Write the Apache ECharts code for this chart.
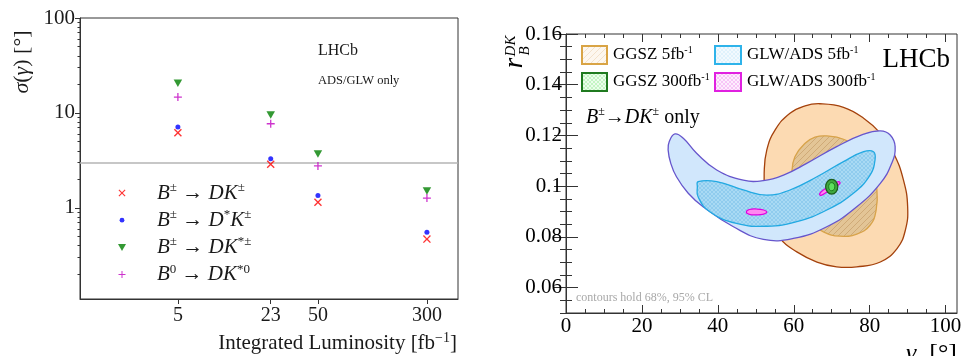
<!DOCTYPE html>
<html><head><meta charset="utf-8">
<script src="https://cdn.jsdelivr.net/npm/echarts@6/dist/echarts.min.js"></script>
<style>html,body{margin:0;padding:0;background:#fff}#c{width:965px;height:356px}</style>
</head><body><div id="c"></div>
<script>
// ---------- Left panel data ----------
const luminosities = [5, 23, 50, 300];
const sigmaBtoDK = [6.2, 2.88, 1.15, 0.47];
const sigmaBtoDstK = [7.1, 3.3, 1.35, 0.555];
const sigmaBtoDKst = [20.5, 9.5, 3.7, 1.51];
const sigmaB0toDKst0 = [14.7, 7.7, 2.77, 1.27];
const referenceSigma = 3;
const leftXTickValues = [5, 23, 50, 300];
const leftYTickValues = [1, 10, 100];
const leftYMinorValues = [0.2,0.3,0.4,0.5,0.6,0.7,0.8,0.9,2,3,4,5,6,7,8,9,20,30,40,50,60,70,80,90];

// ---------- Right panel data ----------
const gammaMajorTicks = [0, 20, 40, 60, 80, 100];
const gammaMinorTicks = [5,10,15,25,30,35,45,50,55,65,70,75,85,90,95];
const rbMajorTicks = [0.06, 0.08, 0.1, 0.12, 0.14, 0.16];
const rbMinorTicks = [0.05,0.055,0.065,0.07,0.075,0.085,0.09,0.095,0.105,0.11,0.115,0.125,0.13,0.135,0.145,0.15,0.155];

const ggsz5fb95 = [[66.9,0.1325],[73.1,0.1311],[78.4,0.1268],[82.8,0.1209],[86.3,0.1130],[88.9,0.1024],[90.0,0.0919],[89.4,0.0827],[87.2,0.0754],[82.8,0.0701],[76.6,0.0682],[71.3,0.0682],[66.1,0.0701],[60.8,0.0741],[56.4,0.0794],[53.7,0.0879],[52.4,0.0972],[52.2,0.1051],[52.9,0.1143],[55.1,0.1222],[59.0,0.1288],[63.0,0.1317]];
const ggsz5fb68 = [[68.7,0.1198],[73.1,0.1185],[77.5,0.1143],[80.6,0.1077],[81.9,0.0985],[81.7,0.0906],[80.1,0.0846],[76.6,0.0811],[72.2,0.0803],[67.8,0.0820],[64.3,0.0860],[61.7,0.0919],[59.9,0.0985],[59.5,0.1051],[60.3,0.1116],[63.0,0.1169],[65.6,0.1193]];
const glwads5fb95 = [[28.7,0.1206],[27.2,0.1176],[26.9,0.1143],[27.6,0.1090],[29.1,0.1037],[32.2,0.0972],[36.1,0.0919],[44.1,0.0840],[52.0,0.0790],[59.9,0.0794],[68.7,0.0840],[76.6,0.0919],[82.8,0.1011],[85.8,0.1090],[86.7,0.1156],[85.4,0.1202],[82.8,0.1218],[78.4,0.1205],[71.3,0.1156],[63.4,0.1090],[57.3,0.1044],[52.0,0.1022],[46.7,0.1024],[39.7,0.1064],[34.4,0.1130],[30.9,0.1189]];
const glwads5fb68 = [[34.8,0.1018],[39.7,0.1018],[46.7,0.0985],[52.9,0.0965],[59.0,0.0985],[66.1,0.1037],[73.1,0.1097],[78.4,0.1136],[81.0,0.1136],[81.4,0.1103],[80.1,0.1044],[75.7,0.0972],[68.7,0.0906],[60.8,0.0860],[52.9,0.0842],[44.9,0.0853],[37.9,0.0899],[34.8,0.0958],[34.6,0.0998]];
const glwads300fbIslandA = [[47.5,0.0898],[48.3,0.0908],[50.2,0.0910],[52.1,0.0906],[52.9,0.0898],[52.1,0.0890],[50.2,0.0887],[48.3,0.0889]];
const glwads300fbIslandB = [[66.8,0.0969],[67.8,0.0985],[69.6,0.1001],[71.8,0.1018],[72.2,0.1012],[70.9,0.0995],[68.7,0.0976],[67.2,0.0964]];
const ggsz300fb95 = [[68.4,0.0998],[68.9,0.1019],[70.0,0.1027],[71.1,0.1019],[71.6,0.0998],[71.1,0.0977],[70.0,0.0969],[68.9,0.0977]];
const ggsz300fb68 = [[69.2,0.0998],[69.4,0.1009],[70.0,0.1014],[70.6,0.1009],[70.8,0.0998],[70.6,0.0987],[70.0,0.0982],[69.4,0.0987]];

// ---------- helpers ----------
function makePattern(bg, line, size, cross, lw) {
  const c = document.createElement('canvas');
  c.width = size; c.height = size;
  const g = c.getContext('2d');
  g.fillStyle = bg; g.fillRect(0, 0, size, size);
  g.strokeStyle = line; g.lineWidth = lw || 1;
  g.beginPath();
  g.moveTo(0, size); g.lineTo(size, 0);
  g.moveTo(-2, 2); g.lineTo(2, -2);
  g.moveTo(size - 2, size + 2); g.lineTo(size + 2, size - 2);
  if (cross) {
    g.moveTo(0, 0); g.lineTo(size, size);
    g.moveTo(-2, size - 2); g.lineTo(2, size + 2);
    g.moveTo(size - 2, -2); g.lineTo(size + 2, 2);
  }
  g.stroke();
  return { image: c, repeat: 'repeat' };
}
const patGgszInner = makePattern('#e3c596', '#caa36f', 6, false, 0.8);
const patGlwInner = makePattern('#a9daf4', '#7fc3ea', 4, true, 0.6);
const patLegGgsz5 = makePattern('#fdf7ef', '#f0dcc2', 6, false, 0.8);
const patLegGlw5 = makePattern('#f2f9fe', '#d2ecfa', 4, true, 0.6);
const patLegGgsz300 = makePattern('#ecfdec', '#a9f0a9', 4, true, 0.6);
const patLegGlw300 = makePattern('#fdeefd', '#f3a9f3', 4, true, 0.6);

function contour(points, fill, stroke, lw, z) {
  return {
    type: 'custom', xAxisIndex: 1, yAxisIndex: 2, data: points, z: z, silent: true,
    renderItem: function (params, api) {
      if (params.dataIndex !== 0) return null;
      const pts = points.map(function (p) { return api.coord(p); });
      return { type: 'polygon', shape: { points: pts, smooth: 0.45 },
               style: { fill: fill, stroke: stroke, lineWidth: lw } };
    }
  };
}
const pair = (xs, ys) => xs.map((x, i) => [x, ys[i]]);

const SERIF = '"Liberation Serif", "DejaVu Serif", serif';
const redX = 'path://M0,1.2L1.2,0L5,3.8L8.8,0L10,1.2L6.2,5L10,8.8L8.8,10L5,6.2L1.2,10L0,8.8L3.8,5Z';
const plusMark = 'path://M4.2,0H5.8V4.2H10V5.8H5.8V10H4.2V5.8H0V4.2H4.2Z';
const downTri = 'path://M0,0L10,0L5,9Z';
// legend icons: padded by extra moveTo points so they render at marker size
const legX = 'path://M0,0M10,10M1.5,2.3L2.3,1.5L5,4.2L7.7,1.5L8.5,2.3L5.8,5L8.5,7.7L7.7,8.5L5,5.8L2.3,8.5L1.5,7.7L4.2,5Z';
const legDot = 'path://M0,0M10,10M5,2.6A2.4,2.4 0 1,1 4.99,2.6Z';
const legTri = 'path://M0,0M10,10M1,1.5L9,1.5L5,8.5Z';
const legPlus = 'path://M0,0M10,10M4.5,1.5H5.5V4.5H8.5V5.5H5.5V8.5H4.5V5.5H1.5V4.5H4.5Z';

const legendRich = {
  sp: { width: 25 },
  i: { fontFamily: SERIF, fontStyle: 'italic', fontSize: 21, lineHeight: 24, color: '#1a1a1a' },
  n: { fontFamily: SERIF, fontSize: 21, lineHeight: 24, color: '#1a1a1a' },
  s: { fontFamily: SERIF, fontSize: 13, lineHeight: 14, verticalAlign: 'top', color: '#1a1a1a' }
};
const legendLabels = {
  'B± → DK±': '{sp| }{i|B}{s|±}{n| → }{i|DK}{s|±}',
  'B± → D*K±': '{sp| }{i|B}{s|±}{n| → }{i|D}{s|*}{i|K}{s|±}',
  'B± → DK*±': '{sp| }{i|B}{s|±}{n| → }{i|DK}{s|*±}',
  'B0 → DK*0': '{sp| }{i|B}{s|0}{n| → }{i|DK}{s|*0}'
};

const numFmt = v => String(parseFloat(Number(v).toFixed(4)));

const chart = echarts.init(document.getElementById('c'), null, { renderer: 'canvas' });
const option = {
  animation: false,
  backgroundColor: '#ffffff',
  grid: [
    { left: 80, top: 18, width: 378, height: 281, show: true, borderColor: '#333', borderWidth: 1, backgroundColor: 'transparent', containLabel: false, outerBoundsMode: 'none' },
    { left: 566, top: 34, width: 391, height: 279, show: true, borderColor: '#333', borderWidth: 1, backgroundColor: 'transparent', containLabel: false, outerBoundsMode: 'none' }
  ],
  xAxis: [
    { type: 'log', logBase: 10, gridIndex: 0, min: 1, max: 500, position: 'bottom',
      axisLine: { show: true, lineStyle: { color: '#333', width: 1 } },
      axisTick: { show: true, customValues: leftXTickValues, length: 5, inside: false, lineStyle: { color: '#333' } },
      axisLabel: { show: true, customValues: leftXTickValues, fontFamily: SERIF, fontSize: 20, color: '#1a1a1a', margin: 7, formatter: numFmt },
      splitLine: { show: false }, minorTick: { show: false } },
    { type: 'value', gridIndex: 1, min: 0, max: 103, position: 'bottom',
      axisLine: { show: true, lineStyle: { color: '#333' } },
      axisTick: { show: true, customValues: gammaMajorTicks, length: 8, inside: true, lineStyle: { color: '#333' } },
      axisLabel: { show: true, customValues: gammaMajorTicks, fontFamily: SERIF, fontSize: 21, color: '#000', margin: 3, formatter: numFmt },
      splitLine: { show: false } },
    { type: 'value', gridIndex: 1, min: 0, max: 103, position: 'bottom',
      axisLine: { show: false }, axisLabel: { show: false }, splitLine: { show: false },
      axisTick: { show: true, customValues: gammaMinorTicks, length: 4, inside: true, lineStyle: { color: '#333' } } },
    { type: 'value', gridIndex: 1, min: 0, max: 103, position: 'top',
      axisLine: { show: false }, axisLabel: { show: false }, splitLine: { show: false },
      axisTick: { show: true, customValues: gammaMajorTicks, length: 8, inside: true, lineStyle: { color: '#333' } } },
    { type: 'value', gridIndex: 1, min: 0, max: 103, position: 'top',
      axisLine: { show: false }, axisLabel: { show: false }, splitLine: { show: false },
      axisTick: { show: true, customValues: gammaMinorTicks, length: 4, inside: true, lineStyle: { color: '#333' } } }
  ],
  yAxis: [
    { type: 'log', logBase: 10, gridIndex: 0, min: 0.11, max: 100, position: 'left',
      axisLine: { show: true, lineStyle: { color: '#333' } },
      axisTick: { show: true, customValues: leftYTickValues, length: 5, inside: false, lineStyle: { color: '#333' } },
      axisLabel: { show: true, customValues: leftYTickValues, fontFamily: SERIF, fontSize: 21, color: '#1a1a1a', margin: 5, formatter: numFmt },
      splitLine: { show: false }, minorTick: { show: false } },
    { type: 'log', logBase: 10, gridIndex: 0, min: 0.11, max: 100, position: 'left',
      axisLine: { show: false }, axisLabel: { show: false }, splitLine: { show: false },
      axisTick: { show: true, customValues: leftYMinorValues, length: 2.5, inside: false, lineStyle: { color: '#333' } } },
    { type: 'value', gridIndex: 1, min: 0.05, max: 0.16, position: 'left',
      axisLine: { show: true, lineStyle: { color: '#333' } },
      axisTick: { show: true, customValues: rbMajorTicks, length: 12, inside: true, lineStyle: { color: '#333' } },
      axisLabel: { show: true, customValues: rbMajorTicks, fontFamily: SERIF, fontSize: 21, color: '#000', margin: 4, formatter: numFmt },
      splitLine: { show: false } },
    { type: 'value', gridIndex: 1, min: 0.05, max: 0.16, position: 'left',
      axisLine: { show: false }, axisLabel: { show: false }, splitLine: { show: false },
      axisTick: { show: true, customValues: rbMinorTicks, length: 6, inside: true, lineStyle: { color: '#333' } } },
    { type: 'value', gridIndex: 1, min: 0.05, max: 0.16, position: 'right',
      axisLine: { show: false }, axisLabel: { show: false }, splitLine: { show: false },
      axisTick: { show: true, customValues: rbMajorTicks, length: 12, inside: true, lineStyle: { color: '#333' } } },
    { type: 'value', gridIndex: 1, min: 0.05, max: 0.16, position: 'right',
      axisLine: { show: false }, axisLabel: { show: false }, splitLine: { show: false },
      axisTick: { show: true, customValues: rbMinorTicks, length: 6, inside: true, lineStyle: { color: '#333' } } }
  ],
  legend: {
    orient: 'vertical', left: 112, top: 176, itemGap: 4.7, itemWidth: 10, itemHeight: 10,
    data: [
      { name: 'B± → DK±', icon: legX },
      { name: 'B± → D*K±', icon: legDot },
      { name: 'B± → DK*±', icon: legTri },
      { name: 'B0 → DK*0', icon: legPlus }
    ],
    formatter: name => legendLabels[name],
    textStyle: { rich: legendRich }, selectedMode: false
  },
  series: [
    { name: 'B± → DK±', type: 'scatter', xAxisIndex: 0, yAxisIndex: 0, data: pair(luminosities, sigmaBtoDK),
      symbol: redX, symbolSize: 8, itemStyle: { color: '#ff0000' }, z: 4,
      markLine: { silent: true, symbol: 'none', label: { show: false }, z: 2,
        lineStyle: { color: '#b5b5b5', width: 1.5, type: 'solid' }, data: [{ yAxis: referenceSigma }] } },
    { name: 'B± → D*K±', type: 'scatter', xAxisIndex: 0, yAxisIndex: 0, data: pair(luminosities, sigmaBtoDstK),
      symbol: 'circle', symbolSize: 5, itemStyle: { color: '#0000ff' }, z: 4 },
    { name: 'B± → DK*±', type: 'scatter', xAxisIndex: 0, yAxisIndex: 0, data: pair(luminosities, sigmaBtoDKst),
      symbol: downTri, symbolSize: [8.5, 7.5], itemStyle: { color: '#008000' }, z: 4 },
    { name: 'B0 → DK*0', type: 'scatter', xAxisIndex: 0, yAxisIndex: 0, data: pair(luminosities, sigmaB0toDKst0),
      symbol: plusMark, symbolSize: 8, itemStyle: { color: '#c000c0' }, z: 4 },
    contour(ggsz5fb95, '#fcdab2', '#a4410c', 1.3, 2),
    contour(ggsz5fb68, patGgszInner, '#d8a34a', 1.3, 3),
    contour(glwads5fb95, '#d1e7fc', '#6655cc', 1.3, 4),
    contour(glwads5fb68, patGlwInner, '#22a9e2', 1.3, 5),
    contour(glwads300fbIslandA, '#ff88f0', '#e000e0', 1.2, 6),
    contour(glwads300fbIslandB, '#ff88f0', '#e000e0', 1.2, 6),
    contour(ggsz300fb95, '#3fa83f', '#1d5e1d', 1.2, 7),
    contour(ggsz300fb68, '#5fe05f', '#1f7a1f', 1, 8)
  ],
  graphic: [
    // Left panel texts
    { type: 'text', x: 22, y: 62, rotation: Math.PI / 2, silent: true,
      style: { text: '{i|σ}{n|(}{i|γ}{n|) [°]}', align: 'center', verticalAlign: 'middle',
        rich: { i: { fontFamily: SERIF, fontStyle: 'italic', fontSize: 22, fill: '#1a1a1a' }, n: { fontFamily: SERIF, fontSize: 22, fill: '#1a1a1a' } } } },
    { type: 'text', x: 457, y: 343, silent: true,
      style: { text: '{n|Integrated Luminosity [fb}{s|−1}{n|]}', align: 'right', verticalAlign: 'middle',
        rich: { n: { fontFamily: SERIF, fontSize: 21, lineHeight: 24, fill: '#1a1a1a' }, s: { fontFamily: SERIF, fontSize: 14, lineHeight: 16, verticalAlign: 'top', fill: '#1a1a1a' } } } },
    { type: 'text', x: 318, y: 51, silent: true, style: { text: 'LHCb', font: '16px ' + SERIF, fill: '#1a1a1a', verticalAlign: 'middle' } },
    { type: 'text', x: 318, y: 81, silent: true, style: { text: 'ADS/GLW only', font: '12.5px ' + SERIF, fill: '#1a1a1a', verticalAlign: 'middle' } },
    // Right panel texts
    { type: 'text', x: 950, y: 60, silent: true, z: 20, style: { text: 'LHCb', font: '27px ' + SERIF, fill: '#000', align: 'right', verticalAlign: 'middle' } },
    { type: 'text', x: 586, y: 118, silent: true, z: 20,
      style: { text: '{i|B}{s|±}{n|→}{i|DK}{s|±}{n| only}', verticalAlign: 'middle',
        rich: { i: { fontFamily: SERIF, fontStyle: 'italic', fontSize: 20, lineHeight: 24, fill: '#000' }, n: { fontFamily: SERIF, fontSize: 20, lineHeight: 24, fill: '#000' }, s: { fontFamily: SERIF, fontSize: 12, lineHeight: 14, verticalAlign: 'top', fill: '#000' } } } },
    { type: 'text', x: 576, y: 298, silent: true, z: 20, style: { text: 'contours hold 68%, 95% CL', font: '12px ' + SERIF, fill: '#a8a8a8', verticalAlign: 'middle' } },
    { type: 'group', x: 517, y: 52, rotation: Math.PI / 2, silent: true, children: [
      { type: 'text', x: -11, y: -2, style: { text: 'r', font: 'italic 27px ' + SERIF, fill: '#000', align: 'center', verticalAlign: 'middle' } },
      { type: 'text', x: 6, y: -6, style: { text: 'DK', font: 'italic 15px ' + SERIF, fill: '#000', align: 'center', verticalAlign: 'middle' } },
      { type: 'text', x: 1, y: 8, style: { text: 'B', font: 'italic 15px ' + SERIF, fill: '#000', align: 'center', verticalAlign: 'middle' } }
    ] },
    { type: 'text', x: 957, y: 341, silent: true,
      style: { text: '{i|γ}{n|  [°]}', align: 'right', verticalAlign: 'top',
        rich: { i: { fontFamily: SERIF, fontStyle: 'italic', fontSize: 26, fill: '#000' }, n: { fontFamily: SERIF, fontSize: 26, fill: '#000' } } } },
    // Right legend
    { type: 'rect', silent: true, z: 20, shape: { x: 582, y: 46, width: 25, height: 18 }, style: { fill: patLegGgsz5, stroke: '#d9a445', lineWidth: 2 } },
    { type: 'rect', silent: true, z: 20, shape: { x: 715, y: 46, width: 26, height: 18 }, style: { fill: patLegGlw5, stroke: '#2eb3ea', lineWidth: 2 } },
    { type: 'rect', silent: true, z: 20, shape: { x: 582, y: 73, width: 25, height: 18 }, style: { fill: patLegGgsz300, stroke: '#1f7a1f', lineWidth: 2 } },
    { type: 'rect', silent: true, z: 20, shape: { x: 715, y: 73, width: 26, height: 18 }, style: { fill: patLegGlw300, stroke: '#e020e0', lineWidth: 2 } },
    { type: 'text', x: 613, y: 55, silent: true, z: 20, style: { text: '{n|GGSZ 5fb}{s|-1}', verticalAlign: 'middle', rich: { n: { fontFamily: SERIF, fontSize: 17, lineHeight: 20, fill: '#000' }, s: { fontFamily: SERIF, fontSize: 10, lineHeight: 12, verticalAlign: 'top', fill: '#000' } } } },
    { type: 'text', x: 747, y: 55, silent: true, z: 20, style: { text: '{n|GLW/ADS 5fb}{s|-1}', verticalAlign: 'middle', rich: { n: { fontFamily: SERIF, fontSize: 17, lineHeight: 20, fill: '#000' }, s: { fontFamily: SERIF, fontSize: 10, lineHeight: 12, verticalAlign: 'top', fill: '#000' } } } },
    { type: 'text', x: 613, y: 82, silent: true, z: 20, style: { text: '{n|GGSZ 300fb}{s|-1}', verticalAlign: 'middle', rich: { n: { fontFamily: SERIF, fontSize: 17, lineHeight: 20, fill: '#000' }, s: { fontFamily: SERIF, fontSize: 10, lineHeight: 12, verticalAlign: 'top', fill: '#000' } } } },
    { type: 'text', x: 747, y: 82, silent: true, z: 20, style: { text: '{n|GLW/ADS 300fb}{s|-1}', verticalAlign: 'middle', rich: { n: { fontFamily: SERIF, fontSize: 17, lineHeight: 20, fill: '#000' }, s: { fontFamily: SERIF, fontSize: 10, lineHeight: 12, verticalAlign: 'top', fill: '#000' } } } }
  ]
};
chart.setOption(option);
</script>
</body></html>
